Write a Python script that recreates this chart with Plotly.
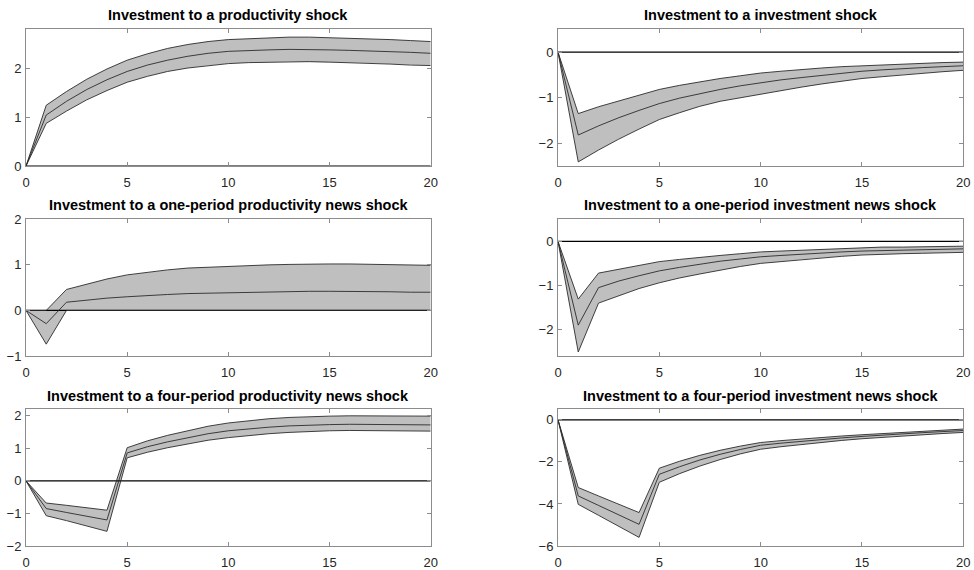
import plotly.graph_objects as go

periods = list(range(21))

titles = [
    "Investment to a productivity shock",
    "Investment to a investment shock",
    "Investment to a one-period productivity news shock",
    "Investment to a one-period investment news shock",
    "Investment to a four-period productivity news shock",
    "Investment to a four-period investment news shock",
]

# Panel 1: productivity shock
p1_med = [0, 1.04, 1.32, 1.56, 1.76, 1.93, 2.06, 2.16, 2.24, 2.30, 2.34, 2.36, 2.37, 2.38, 2.38, 2.37, 2.36, 2.35, 2.33, 2.32, 2.30]
p1_up = [0, 1.24, 1.52, 1.77, 1.98, 2.16, 2.29, 2.40, 2.48, 2.54, 2.58, 2.60, 2.62, 2.63, 2.63, 2.62, 2.61, 2.60, 2.58, 2.56, 2.54]
p1_lo = [0, 0.87, 1.12, 1.35, 1.54, 1.71, 1.83, 1.93, 2.00, 2.05, 2.09, 2.11, 2.12, 2.13, 2.13, 2.12, 2.11, 2.10, 2.08, 2.06, 2.05]

# Panel 2: investment shock
p2_med = [0, -1.82, -1.62, -1.44, -1.28, -1.13, -1.01, -0.91, -0.82, -0.74, -0.67, -0.61, -0.56, -0.51, -0.46, -0.42, -0.39, -0.36, -0.34, -0.32, -0.30]
p2_up = [0, -1.35, -1.20, -1.07, -0.94, -0.82, -0.73, -0.65, -0.58, -0.52, -0.46, -0.42, -0.38, -0.35, -0.32, -0.30, -0.28, -0.26, -0.24, -0.23, -0.22]
p2_lo = [0, -2.41, -2.15, -1.91, -1.69, -1.48, -1.33, -1.19, -1.08, -1.00, -0.93, -0.85, -0.77, -0.70, -0.64, -0.58, -0.54, -0.50, -0.46, -0.43, -0.40]

# Panel 3: one-period productivity news shock
p3_med = [0, -0.29, 0.18, 0.23, 0.27, 0.30, 0.33, 0.35, 0.37, 0.38, 0.39, 0.40, 0.41, 0.41, 0.42, 0.42, 0.42, 0.41, 0.41, 0.40, 0.40]
p3_up = [0, 0.0, 0.46, 0.58, 0.69, 0.78, 0.84, 0.89, 0.93, 0.95, 0.97, 0.99, 1.00, 1.01, 1.02, 1.02, 1.02, 1.01, 1.01, 1.00, 0.99]
p3_lo = [0, -0.74, 0.0, 0.0, 0.0, 0.0, 0.0, 0.0, 0.0, 0.0, 0.0, 0.0, 0.0, 0.0, 0.0, 0.0, 0.0, 0.0, 0.0, 0.0, 0.0]

# Panel 4: one-period investment news shock
p4_med = [0, -1.90, -1.05, -0.90, -0.78, -0.67, -0.59, -0.52, -0.45, -0.40, -0.35, -0.32, -0.29, -0.26, -0.24, -0.22, -0.21, -0.20, -0.19, -0.18, -0.17]
p4_up = [0, -1.31, -0.72, -0.63, -0.54, -0.46, -0.41, -0.36, -0.32, -0.28, -0.24, -0.22, -0.20, -0.18, -0.16, -0.14, -0.13, -0.13, -0.12, -0.12, -0.11]
p4_lo = [0, -2.51, -1.40, -1.23, -1.07, -0.94, -0.83, -0.74, -0.65, -0.57, -0.50, -0.46, -0.41, -0.37, -0.34, -0.31, -0.29, -0.28, -0.27, -0.26, -0.25]

# Panel 5: four-period productivity news shock
p5_med = [0, -0.85, -0.97, -1.08, -1.20, 0.86, 1.05, 1.20, 1.33, 1.45, 1.54, 1.60, 1.65, 1.69, 1.72, 1.73, 1.74, 1.74, 1.74, 1.73, 1.72]
p5_up = [0, -0.68, -0.75, -0.82, -0.90, 1.02, 1.23, 1.40, 1.55, 1.68, 1.78, 1.85, 1.91, 1.95, 1.98, 1.99, 2.00, 2.00, 2.00, 1.99, 1.99]
p5_lo = [0, -1.07, -1.22, -1.38, -1.55, 0.71, 0.88, 1.02, 1.14, 1.25, 1.33, 1.40, 1.45, 1.49, 1.52, 1.54, 1.55, 1.55, 1.55, 1.54, 1.53]

# Panel 6: four-period investment news shock
p6_med = [0, -3.62, -4.07, -4.52, -4.97, -2.59, -2.23, -1.91, -1.64, -1.41, -1.21, -1.11, -1.02, -0.94, -0.86, -0.79, -0.72, -0.66, -0.61, -0.56, -0.51]
p6_up = [0, -3.22, -3.62, -4.01, -4.41, -2.30, -1.97, -1.69, -1.45, -1.25, -1.08, -0.99, -0.91, -0.84, -0.77, -0.71, -0.65, -0.59, -0.54, -0.49, -0.44]
p6_lo = [0, -4.02, -4.54, -5.06, -5.59, -2.97, -2.56, -2.20, -1.89, -1.62, -1.40, -1.28, -1.17, -1.07, -0.98, -0.90, -0.83, -0.76, -0.70, -0.65, -0.60]

medians = [p1_med, p2_med, p3_med, p4_med, p5_med, p6_med]
uppers = [p1_up, p2_up, p3_up, p4_up, p5_up, p6_up]
lowers = [p1_lo, p2_lo, p3_lo, p4_lo, p5_lo, p6_lo]

y_ranges = [[0, 2.79], [-2.5, 0.5], [-1, 2], [-2.6, 0.5], [-2, 2.2], [-6, 0.5]]
y_ticks = [[0, 1, 2], [-2, -1, 0], [-1, 0, 1, 2], [-2, -1, 0], [-2, -1, 0, 1, 2], [-6, -4, -2, 0]]
x_ticks = [0, 5, 10, 15, 20]

W, H = 974, 570
col_px = [(26, 430.7), (558, 963.3)]
row_px = [(29.3, 166), (219.3, 356), (409.3, 546)]
x_doms = [[a / W, b / W] for a, b in col_px]
y_doms = [[1 - b / H, 1 - t / H] for t, b in row_px]
title_y = [15, 205, 395.5]

fig = go.Figure()
layout = dict(
    width=W, height=H,
    margin=dict(l=0, r=0, t=0, b=0, autoexpand=False),
    paper_bgcolor="white", plot_bgcolor="white",
    showlegend=False,
    font=dict(family="Liberation Sans, Arial, sans-serif", size=13, color="#262626"),
)
annotations = []
axis_color = "#8c8c8c"

for i in range(6):
    r, c = divmod(i, 2)
    k = i + 1
    xa = "x" if k == 1 else f"x{k}"
    ya = "y" if k == 1 else f"y{k}"
    # band
    fig.add_trace(go.Scatter(
        x=periods + periods[::-1], y=uppers[i] + lowers[i][::-1],
        fill="toself", fillcolor="#bfbfbf", mode="lines",
        line=dict(color="rgba(0,0,0,0)", width=0), hoverinfo="skip",
        xaxis=xa, yaxis=ya))
    # zero line
    fig.add_trace(go.Scatter(x=[0, 20], y=[0, 0], mode="lines",
                             line=dict(color="black", width=1.2),
                             xaxis=xa, yaxis=ya))
    for series in (uppers[i], lowers[i], medians[i]):
        fig.add_trace(go.Scatter(x=periods, y=series, mode="lines",
                                 line=dict(color="#2b2b2b", width=0.9),
                                 xaxis=xa, yaxis=ya))
    common = dict(showline=True, linecolor=axis_color, linewidth=1, mirror="ticks",
                  ticks="inside", ticklen=4, tickcolor=axis_color, showgrid=False,
                  zeroline=False, automargin=False, tickfont=dict(size=13, color="#262626"))
    layout[f"xaxis{'' if k == 1 else k}"] = dict(
        domain=x_doms[c], range=[0, 20], tickvals=x_ticks, anchor=ya,
        ticklabelstandoff=4, **common)
    layout[f"yaxis{'' if k == 1 else k}"] = dict(
        domain=y_doms[r], range=y_ranges[i], tickvals=y_ticks[i], anchor=xa,
        ticklabelstandoff=1, **common)
    annotations.append(dict(
        text=f"<b>{titles[i]}</b>", x=(x_doms[c][0] + x_doms[c][1]) / 2,
        y=1 - title_y[r] / H, xref="paper", yref="paper",
        xanchor="center", yanchor="middle", showarrow=False,
        font=dict(size=14.5, color="black", family="Liberation Sans, Arial, sans-serif")))

layout["annotations"] = annotations
fig.update_layout(**layout)
fig.write_html("out.html", config={"displayModeBar": False},
               post_script="document.body.style.margin='0';document.body.style.overflow='hidden';")
